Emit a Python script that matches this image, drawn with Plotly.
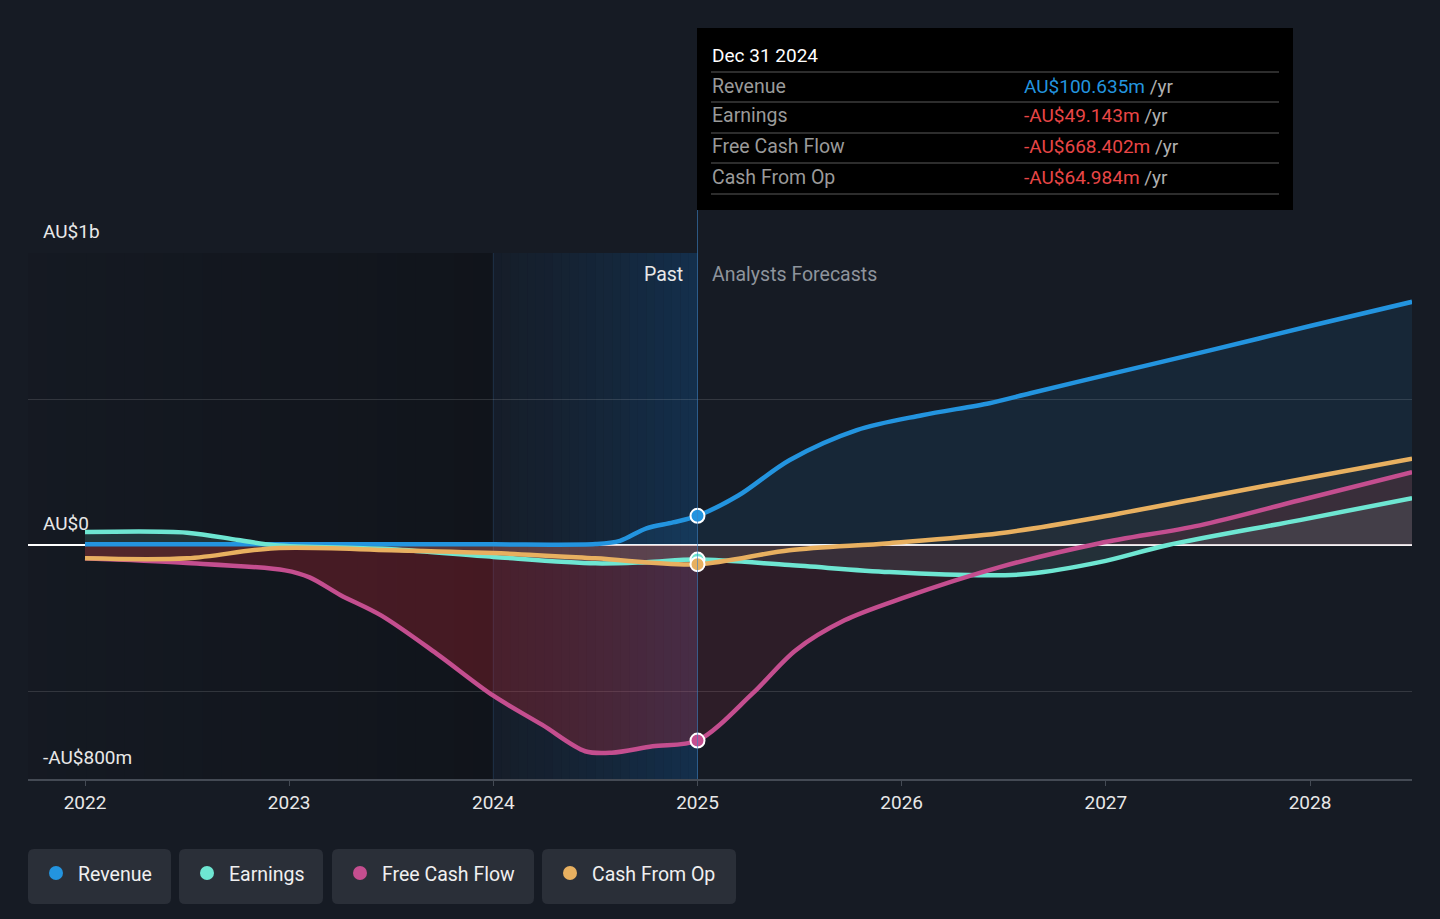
import plotly.graph_objects as go

# ---- data (values in AU$ millions, x in decimal years) ----
rev_x = [2022.0, 2022.5, 2023.0, 2023.5, 2024.0, 2024.5, 2024.62, 2024.75, 2024.88, 2025.0,
         2025.2, 2025.45, 2025.78, 2026.1, 2026.43, 2026.63, 2027.0, 2027.5, 2028.0, 2028.5]
rev_y = [3, 3, 3, 3, 3, 4, 15, 58, 78, 100.635,
         170, 291, 394, 445, 486, 520, 582, 665, 750, 833]

earn_x = [2022.0, 2022.5, 2022.75, 2022.93, 2023.5, 2024.0, 2024.5, 2024.75, 2025.0,
          2025.45, 2025.94, 2026.43, 2026.62, 2026.97, 2027.3, 2027.95, 2028.5]
earn_y = [45, 43, 18, 0, -14, -40, -62, -58, -49.143,
          -68, -92, -103, -98, -58, 0, 86, 161]

fcf_x = [2022.0, 2022.48, 2022.98, 2023.1, 2023.25, 2023.45, 2023.72, 2024.0, 2024.24, 2024.45,
         2024.58, 2024.78, 2025.0, 2025.27, 2025.48, 2025.72, 2026.0, 2026.48, 2026.97,
         2027.46, 2027.95, 2028.5]
fcf_y = [-45, -60, -86, -110, -170, -240, -370, -515, -615, -705,
         -710, -688, -668.402, -507, -360, -257, -182, -75, 7,
         68, 154, 250]

cfo_x = [2022.0, 2022.5, 2022.93, 2023.5, 2024.0, 2024.5, 2025.0, 2025.45, 2025.94, 2026.48,
         2027.0, 2027.5, 2028.0, 2028.5]
cfo_y = [-45, -45, -10, -17, -27, -45, -64.984, -17, 7, 41,
         100, 166, 232, 296]

# name, x, y, line colour, fill (past), fill (forecast)
series = [
    ('Revenue', rev_x, rev_y, '#2394df', 'rgba(35,148,223,0.10)', 'rgba(35,148,223,0.10)'),
    ('Earnings', earn_x, earn_y, '#6ee6d2', 'rgba(110,230,210,0.14)', 'rgba(150,220,215,0.11)'),
    ('Free Cash Flow', fcf_x, fcf_y, '#c44e8f', 'rgba(210,40,55,0.27)', 'rgba(200,45,70,0.13)'),
    ('Cash From Op', cfo_x, cfo_y, '#e8b060', 'rgba(232,176,96,0.07)', 'rgba(232,176,96,0.06)'),
]

tooltip_date = 'Dec 31 2024'
tooltip_rows = [('Revenue', 'AU$100.635m', '#2394df'),
                ('Earnings', '-AU$49.143m', '#e84646'),
                ('Free Cash Flow', '-AU$668.402m', '#e84646'),
                ('Cash From Op', '-AU$64.984m', '#e84646')]

year_ticks = [2022, 2023, 2024, 2025, 2026, 2027, 2028]
grid_vals = [-500, 0, 500, 1000]
y_labels = [(1000, 'AU$1b'), (0, 'AU$0'), (-800, '-AU$800m')]
now_year = 2025.0

# ---- layout geometry ----
W, H = 1440, 919
L, R, T, B = 28, 28, 253, 140
x_min, x_max = 2021.7208, 2028.4996
y_min, y_max = -800, 1000
BG = '#161b24'
FONT = 'Roboto'
SPLINE = dict(shape='spline', smoothing=0.9)


def px(x):
    # pixel -> paper x
    return (x - L) / (W - L - R)


def py(y):
    # pixel -> paper y
    return (H - B - y) / (H - T - B)


def rounded_rect(x0, y0, x1, y1, r):
    # path in paper coords for a rounded rectangle given in pixels
    pts = [
        f'M {px(x0 + r)} {py(y0)}', f'L {px(x1 - r)} {py(y0)}',
        f'Q {px(x1)} {py(y0)} {px(x1)} {py(y0 + r)}', f'L {px(x1)} {py(y1 - r)}',
        f'Q {px(x1)} {py(y1)} {px(x1 - r)} {py(y1)}', f'L {px(x0 + r)} {py(y1)}',
        f'Q {px(x0)} {py(y1)} {px(x0)} {py(y1 - r)}', f'L {px(x0)} {py(y0 + r)}',
        f'Q {px(x0)} {py(y0)} {px(x0 + r)} {py(y0)}', 'Z']
    return ' '.join(pts)


fig = go.Figure()

# fills first (history and forecast separately), then lines on top
for name, xs, ys, color, fill_past, fill_fc in series:
    i = xs.index(now_year)
    fig.add_scatter(x=xs[:i + 1], y=ys[:i + 1], mode='lines', fill='tozeroy', fillcolor=fill_past,
                    line=dict(width=0, **SPLINE), hoverinfo='skip', showlegend=False)
    fig.add_scatter(x=xs[i:], y=ys[i:], mode='lines', fill='tozeroy', fillcolor=fill_fc,
                    line=dict(width=0, **SPLINE), hoverinfo='skip', showlegend=False)
for name, xs, ys, color, fill_past, fill_fc in series:
    fig.add_scatter(x=xs, y=ys, mode='lines', name=name,
                    line=dict(color=color, width=4.5, **SPLINE),
                    hoverinfo='skip', showlegend=False)

# markers at the "now" point
for idx in [0, 2, 1, 3]:
    name, xs, ys, color = series[idx][:4]
    i = xs.index(now_year)
    fig.add_scatter(x=[xs[i]], y=[ys[i]], mode='markers',
                    marker=dict(size=14, color=color, line=dict(color='white', width=2)),
                    hoverinfo='skip', showlegend=False)

shapes = []
# past region: darkening towards 2024
n = 24
step = (2024 - x_min) / n
for k in range(n):
    shapes.append(dict(type='rect', xref='x', yref='y', x0=x_min + k * step, x1=x_min + (k + 1) * step,
                       y0=y_min, y1=y_max, fillcolor=f'rgba(0,0,0,{0.04 + 0.2 * k / n:.3f})',
                       line=dict(width=0), layer='below'))
# highlighted last year of history: blue gradient
step = (now_year - 2024) / n
for k in range(n):
    shapes.append(dict(type='rect', xref='x', yref='y', x0=2024 + k * step, x1=2024 + (k + 1) * step,
                       y0=y_min, y1=y_max, fillcolor=f'rgba(18,70,120,{0.08 + 0.42 * (k / n) ** 1.3:.3f})',
                       line=dict(width=0), layer='below'))
shapes.append(dict(type='line', xref='x', yref='y', x0=2024, x1=2024, y0=y_min, y1=y_max,
                   line=dict(color='rgba(80,140,200,0.22)', width=1), layer='below'))
# now line, reaching up to the tooltip
shapes.append(dict(type='line', xref='x', yref='paper', x0=now_year, x1=now_year, y0=0, y1=py(210),
                   line=dict(color='rgba(60,130,195,0.6)', width=1)))

# tooltip box
shapes.append(dict(type='rect', xref='paper', yref='paper', x0=px(697), x1=px(1293), y0=py(210), y1=py(28),
                   fillcolor='#000000', line=dict(width=0)))
for yy in [72, 102, 133, 163, 194]:
    shapes.append(dict(type='line', xref='paper', yref='paper', x0=px(711), x1=px(1279), y0=py(yy), y1=py(yy),
                       line=dict(color='#3c3c3c', width=1.5)))

# legend chips
chips = [(28, 171), (179, 323), (332, 534), (542, 736)]
for (x0, x1), s in zip(chips, series):
    shapes.append(dict(type='path', xref='paper', yref='paper', path=rounded_rect(x0, 849, x1, 904, 6),
                       fillcolor='#2a2f38', line=dict(width=0)))
    shapes.append(dict(type='circle', xref='paper', yref='paper', x0=px(x0 + 21), x1=px(x0 + 35),
                       y0=py(880), y1=py(866), fillcolor=s[3], line=dict(width=0)))

annotations = []
for val, txt in y_labels:
    annotations.append(dict(xref='paper', yref='y', x=px(41), y=val, text=txt, showarrow=False,
                            xanchor='left', yanchor='bottom', yshift=8,
                            font=dict(family=FONT, size=19, color='#e8e8e8')))
annotations.append(dict(xref='x', yref='paper', x=now_year, y=py(274), text='Past', showarrow=False,
                        xanchor='right', yanchor='middle', xshift=-13,
                        font=dict(family=FONT, size=19.5, color='#e8e8e8')))
annotations.append(dict(xref='x', yref='paper', x=now_year, y=py(274), text='Analysts Forecasts',
                        showarrow=False, xanchor='left', yanchor='middle', xshift=12,
                        font=dict(family=FONT, size=19.5, color='#8e949c')))

annotations.append(dict(xref='paper', yref='paper', x=px(710), y=py(55), text=tooltip_date, showarrow=False,
                        xanchor='left', yanchor='middle', font=dict(family=FONT, size=19, color='#ffffff')))
for (label, value, vcolor), yy in zip(tooltip_rows, [86, 116, 147, 177]):
    annotations.append(dict(xref='paper', yref='paper', x=px(710), y=py(yy), text=label, showarrow=False,
                            xanchor='left', yanchor='middle', font=dict(family=FONT, size=19.5, color='#9a9a9a')))
    annotations.append(dict(xref='paper', yref='paper', x=px(1022), y=py(yy),
                            text=f'<span style="color:{vcolor}">{value}</span> /yr', showarrow=False,
                            xanchor='left', yanchor='middle', font=dict(family=FONT, size=19, color='#b0b0b0')))

for (x0, x1), s in zip(chips, series):
    annotations.append(dict(xref='paper', yref='paper', x=px(x0 + 48), y=py(874), text=s[0], showarrow=False,
                            xanchor='left', yanchor='middle', font=dict(family=FONT, size=19.5, color='#f0f0f0')))

fig.update_layout(
    width=W, height=H,
    margin=dict(l=L, r=R, t=T, b=B),
    paper_bgcolor=BG, plot_bgcolor=BG,
    showlegend=False,
    shapes=shapes, annotations=annotations,
    xaxis=dict(range=[x_min, x_max], tickvals=year_ticks, ticktext=[str(y) for y in year_ticks],
               showgrid=False, zeroline=False, showline=True, linecolor='#444a54', linewidth=2,
               ticks='outside', ticklen=5, tickwidth=1, tickcolor='#444a54',
               tickfont=dict(family=FONT, size=19, color='#e8e8e8')),
    yaxis=dict(range=[y_min, y_max], tickvals=grid_vals, showticklabels=False,
               showgrid=True, gridcolor='rgba(255,255,255,0.13)', gridwidth=1,
               zeroline=True, zerolinecolor='#ffffff', zerolinewidth=2),
)

fig.write_html("out.html", config={'displayModeBar': False},
               post_script="document.body.style.margin='0';")
